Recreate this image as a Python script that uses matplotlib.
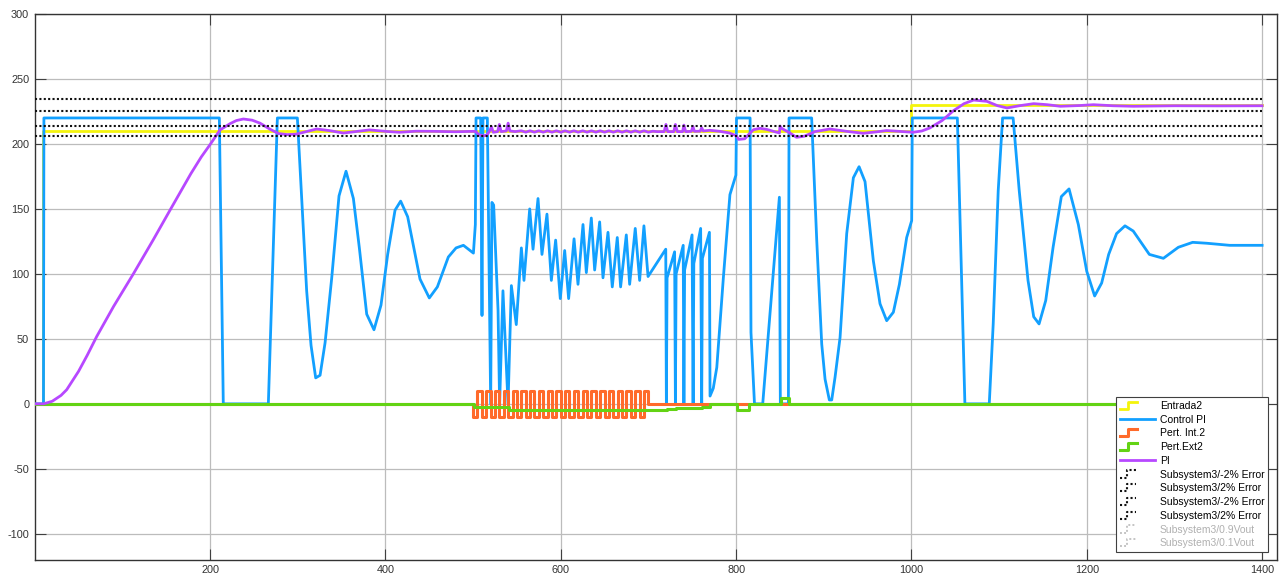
import matplotlib
matplotlib.use("Agg")
import matplotlib.pyplot as plt
from matplotlib.lines import Line2D
from matplotlib.legend_handler import HandlerBase

plt.rcParams["font.family"] = ["Liberation Sans", "DejaVu Sans"]
plt.rcParams["axes.unicode_minus"] = False

# ---------------- signals (time in s) ----------------
sim_span = [0, 1400]

entrada_t = [0, 10, 1000, 1400]
entrada_v = [0, 210, 230, 230]

control_t = [0, 10, 10.5, 210.6, 215.1, 266.5, 276.8, 299.6, 310.2, 315.2, 320.5, 325.5,
             331.2, 338.8, 347.1, 355.1, 363.5, 370.3, 378.7, 387, 395, 402.6, 411, 417.4,
             425.4, 439.5, 450.1, 459.3, 471.8, 480.6, 489, 500.4, 502.6, 503.4, 508.7,
             510.2, 511.3, 516.3, 520.1, 521.5, 523.5, 528.5, 530.3, 534.1, 539.9, 543.7,
             549.3, 555.1, 558.1, 564.6, 568.4, 574.1, 578.6, 584.3, 589.3, 594.2, 599.5,
             604.5, 609, 615.2, 619.7, 625.4, 629.2, 634.9, 638.7, 644.4, 648.2, 653.9,
             658.8, 664.5, 668.3, 674.8, 678.6, 685, 690, 694.9, 699.6, 719.8, 720.5,
             721.3, 729.9, 730.8, 731.6, 739.7, 740.5, 741.3, 749.8, 751, 751.8, 759.6,
             760.8, 761.6, 769.6, 770.3, 774, 778, 785.5, 793, 799.8, 800.5, 816, 817,
             821, 830.4, 849.4, 850.5, 859.7, 860.4, 886.2, 892, 897.7, 901.5, 906.4,
             909.1, 912.9, 918.6, 926.2, 933.8, 940.3, 947.1, 956.6, 964.2, 971.8, 979.4,
             986.3, 994.6, 1000.3, 1001, 1052.4, 1061, 1088.8, 1093.3, 1099, 1104, 1116,
             1123, 1133, 1139.5, 1145.6, 1153.2, 1161.6, 1171, 1179.8, 1190.4, 1200, 1209,
             1217, 1225, 1234, 1243.6, 1253, 1271.4, 1287.4, 1304.5, 1320.8, 1336.8, 1363,
             1400]
control_v = [0, 0, 220, 220, 0, 0, 220, 220, 87, 45, 20, 22,
             47, 97, 160, 179, 158, 120, 69, 57, 76, 115, 149, 156,
             144, 96, 81.5, 90, 113, 120, 122, 116, 138, 220, 220,
             68, 220, 220, 0, 155, 153, 72, 0, 87, 0, 91,
             61, 120, 95, 150, 119, 158, 115, 146, 95, 126, 81,
             118, 81, 127, 92, 138, 101, 143, 103, 140, 97, 132,
             90, 128, 90, 130, 92, 135, 95, 137, 98, 119, 0,
             97, 117, 0, 100, 122, 0, 103, 130, 0, 108, 135,
             0, 112, 132, 6, 12, 28, 97, 161, 176, 220, 220, 55,
             0, 0, 159, 0, 0, 220, 220, 126, 46, 19, 3,
             3, 20.5, 51, 131, 174, 182.5, 171, 110, 77, 64, 70.5,
             92, 128, 141, 220, 220, 0, 0, 61.5, 164, 220, 220,
             164, 95, 67, 61.5, 79.5, 120.5, 159.5, 165.4, 138, 102, 83,
             93, 115, 131, 137, 133, 115, 112, 120.5, 124.3, 123.6, 122,
             122]

pert_int_t = [0, 500, 505, 510, 515, 520, 525, 530, 535, 540, 545, 550, 555, 560, 565,
              570, 575, 580, 585, 590, 595, 600, 605, 610, 615, 620, 625, 630, 635, 640,
              645, 650, 655, 660, 665, 670, 675, 680, 685, 690, 695, 700, 1400]
pert_int_v = [0, -10, 10, -10, 10, -10, 10, -10, 10, -10, 10, -10, 10, -10, 10,
              -10, 10, -10, 10, -10, 10, -10, 10, -10, 10, -10, 10, -10, 10, -10,
              10, -10, 10, -10, 10, -10, 10, -10, 10, -10, 10, 0, 0]

pert_ext_t = [0, 501, 541, 721, 731, 740, 751, 761, 770, 801, 815, 851, 860, 1400]
pert_ext_v = [0, -2.6, -4.4, -3.8, -3.4, -3.1, -2.9, -2.1, 0, -4.4, 0, 4.6, 0, 0]

pi_t = [0, 10, 20, 30, 36.5, 50, 60, 70.7, 90, 112.5, 135, 154.3, 178, 190, 200, 211.4,
        222.8, 230, 238, 248, 257, 268, 278, 288, 298, 310, 321.6, 336, 352, 367, 382,
        400, 416, 435, 455, 480, 500, 503, 507, 512, 516, 519, 521, 523, 528, 530, 532,
        538, 540, 542, 548, 555, 560, 565, 570, 575, 580, 585, 590, 595, 600, 605, 610,
        615, 620, 625, 630, 635, 640, 645, 650, 655, 660, 665, 670, 675, 680, 685, 690,
        695, 700, 705, 710, 718, 720, 722, 729, 730.8, 733, 739, 740.5, 742.5, 749,
        750.8, 752.5, 759, 760.8, 762.5, 770, 781.7, 792, 800, 803, 810, 816, 820, 827.4,
        835, 842.6, 849.4, 850.2, 852, 860, 869, 878, 890, 907, 925, 945, 960, 971.7,
        990, 1002, 1012, 1021, 1035, 1048, 1060, 1071, 1086, 1098, 1109, 1124, 1139.5,
        1155, 1170, 1192.8, 1207.6, 1230, 1253, 1300, 1350, 1400]
pi_v = [0, 0, 2, 6.5, 10.9, 25, 37.5, 51.8, 75, 100, 126, 149, 177, 190, 199.5, 210.8,
        215.6, 218, 219.2, 218.3, 216, 211.5, 208, 207.2, 207.5, 209.5, 211.5, 210.3, 208.4,
        209.6, 210.8, 209.7, 209, 209.8, 209.7, 209.4, 209.7, 209.5, 207, 206.2, 207, 210,
        213.3, 209, 209.5, 215, 209.5, 210, 216, 210, 209.5, 210.1, 209.1, 210.1, 209.1,
        210.1, 209.1, 210.1, 209.1, 210.1, 209.1, 210.1, 209.1, 210.1, 209.1, 210.1, 209.1,
        210.1, 209.1, 210.1, 209.1, 210.1, 209.1, 210.1, 209.1, 210.1, 209.1, 210.1, 209.1,
        210.1, 209.1, 209.8, 209.5, 209.5, 215, 209.5, 209.5, 215, 209.5, 209.5, 214.5,
        209.5, 209.7, 213.5, 209.7, 209.8, 212.5, 210, 210.5, 209.7, 208.5, 206.4, 203.5,
        204, 208.5, 211, 212, 211.2, 209.7, 208.5, 213.8, 212, 209, 205.1, 206, 209.5,
        211.5, 209.8, 208.2, 209.3, 210.3, 209.5, 209, 210, 212.3, 218, 225.6, 231, 233.8,
        232.8, 229.5, 227.7, 229.5, 231, 230.2, 229, 229.6, 230.2, 229.4, 229, 229.4,
        229.3, 229.4]

band_levels = [205.8, 214.2, 225.4, 234.6]
band_labels = ["Subsystem3/-2% Error", "Subsystem3/2% Error",
               "Subsystem3/-2% Error", "Subsystem3/2% Error"]
hidden_labels = ["Subsystem3/0.9Vout", "Subsystem3/0.1Vout"]

x_ticks = [200, 400, 600, 800, 1000, 1200, 1400]
y_ticks = [-100, -50, 0, 50, 100, 150, 200, 250, 300]

# ---------------- styling ----------------
C_YELLOW = "#f4f40c"
C_BLUE = "#12a0ff"
C_ORANGE = "#ff6a2a"
C_GREEN = "#63d314"
C_PURPLE = "#b748ff"
DOTS = (0, (1, 1.1))


class StepHandler(HandlerBase):
    """Legend icon drawn as a small rising step."""

    def __init__(self, frac=0.5):
        super().__init__()
        self.frac = frac

    def create_artists(self, legend, orig_handle, xdescent, ydescent,
                       width, height, fontsize, trans):
        x0, y0 = -xdescent, -ydescent
        w = width * self.frac
        xs = [x0, x0 + 0.45 * w, x0 + 0.45 * w, x0 + w]
        ys = [y0, y0, y0 + height, y0 + height]
        ln = Line2D(xs, ys)
        ln.update_from(orig_handle)
        ln.set_data(xs, ys)
        ln.set_transform(trans)
        return [ln]


fig = plt.figure(figsize=(12.82, 5.75), dpi=100)
ax = fig.add_axes([0.02707, 0.02643, 0.96903, 0.94922])

l_in, = ax.plot(entrada_t, entrada_v, drawstyle="steps-post", color=C_YELLOW, lw=2.0,
                zorder=2, label="Entrada2")
l_u, = ax.plot(control_t, control_v, color=C_BLUE, lw=2.0, zorder=3,
               label="Control PI")
l_pi_int, = ax.plot(pert_int_t, pert_int_v, drawstyle="steps-post", color=C_ORANGE,
                    lw=2.2, zorder=4, label="Pert. Int.2")
l_pe, = ax.plot(pert_ext_t, pert_ext_v, drawstyle="steps-post", color=C_GREEN, lw=2.2,
                zorder=5, label="Pert.Ext2")
l_y, = ax.plot(pi_t, pi_v, color=C_PURPLE, lw=2.0, zorder=6, label="PI")

band_lines = []
for lvl, lab in zip(band_levels, band_labels):
    ln, = ax.plot(sim_span, [lvl, lvl], color="#111111", lw=1.5, linestyle=DOTS,
                  zorder=7, label=lab)
    band_lines.append(ln)

hidden_lines = [Line2D([], [], color="#c4c4c4", lw=1.4, linestyle=DOTS, label=lab)
                for lab in hidden_labels]

ax.set_xlim(0, 1417)
ax.set_ylim(-120, 300)
ax.set_xticks(x_ticks)
ax.set_yticks(y_ticks)
ax.grid(True, color="#bcbcbc", lw=0.9)
ax.set_axisbelow(True)
ax.tick_params(direction="in", length=8, width=0.8, color="#404040",
               labelcolor="#333333", labelsize=7.8, top=True, right=True, pad=4)
for sp in ax.spines.values():
    sp.set_color("#333333")
    sp.set_linewidth(1.0)

handles = [l_in, l_u, l_pi_int, l_pe, l_y] + band_lines + hidden_lines
hmap = {l_in: StepHandler(), l_pi_int: StepHandler(), l_pe: StepHandler()}
for h in band_lines + hidden_lines:
    hmap[h] = StepHandler(0.45)

leg = ax.legend(handles=handles, loc="lower right", bbox_to_anchor=(0.9928, 0.0143),
                borderaxespad=0, fontsize=7.5, frameon=True, fancybox=False,
                framealpha=1, edgecolor="#404040", borderpad=0.35, labelspacing=0.36,
                handlelength=3.4, handletextpad=0.45, handler_map=hmap)
leg.get_frame().set_linewidth(0.8)
leg.set_zorder(10)
for txt in leg.get_texts()[-2:]:
    txt.set_color("#b0b0b0")

fig.savefig("out.png", dpi=100)
